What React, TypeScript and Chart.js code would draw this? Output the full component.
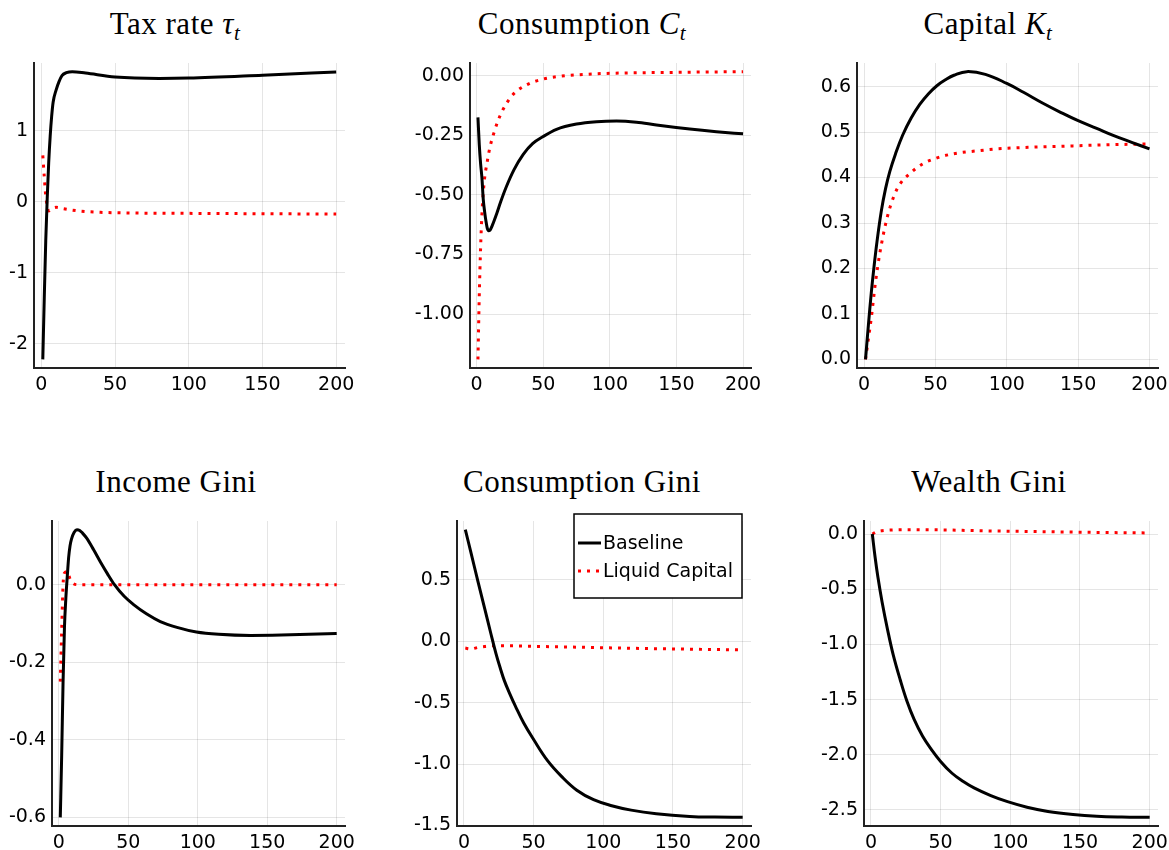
import React, { useEffect, useRef } from "react";
import { Chart, registerables } from "chart.js";

Chart.register(...registerables);

// ---------------- DATA ----------------
const xTicks = [0, 50, 100, 150, 200];
const xTickLabels = ["0", "50", "100", "150", "200"];
const xMin = -4.97;
const xMax = 205.97;

// Tax rate tau_t
const taxBaseT = [1, 2, 3, 4, 5, 6, 7, 8, 10, 12, 14, 17, 21, 30, 50, 80, 100, 150, 200];
const taxBaseV = [-2.22, -1.35, -0.55, 0.05, 0.55, 0.92, 1.2, 1.4, 1.57, 1.69, 1.775, 1.815, 1.83, 1.81, 1.755, 1.735, 1.74, 1.78, 1.825];
const taxLiqT = [1, 2, 3, 4, 5, 7, 10, 15, 25, 40, 60, 100, 150, 200];
const taxLiqV = [0.65, 0.35, 0.08, -0.06, -0.13, -0.1, -0.08, -0.1, -0.13, -0.15, -0.16, -0.165, -0.17, -0.175];
const taxYTicks = [-2, -1, 0, 1];
const taxYLabels = ["-2", "-1", "0", "1"];

// Consumption C_t
const conBaseT = [1, 2, 3, 4, 5, 6, 7, 8, 9, 10, 12, 15, 18, 22, 28, 35, 42, 50, 60, 75, 90, 105, 120, 135, 160, 180, 200];
const conBaseV = [-0.175, -0.29, -0.37, -0.43, -0.52, -0.57, -0.61, -0.64, -0.65, -0.648, -0.625, -0.58, -0.53, -0.47, -0.395, -0.33, -0.285, -0.255, -0.225, -0.203, -0.193, -0.19, -0.195, -0.207, -0.224, -0.235, -0.244];
const conLiqT = [1, 2, 3, 4, 5, 6, 8, 10, 13, 16, 20, 25, 30, 40, 50, 60, 80, 100, 150, 200];
const conLiqV = [-1.19, -0.92, -0.72, -0.58, -0.49, -0.43, -0.36, -0.3, -0.24, -0.19, -0.14, -0.095, -0.065, -0.032, -0.014, -0.004, 0.005, 0.01, 0.014, 0.017];
const conYTicks = [-1, -0.75, -0.5, -0.25, 0];
const conYLabels = ["-1.00", "-0.75", "-0.50", "-0.25", "0.00"];

// Capital K_t
const capBaseT = [1, 3, 5, 7, 9, 12, 15, 18, 22, 27, 33, 39, 45, 51, 57, 63, 72, 85, 100, 112, 125, 138, 150, 163, 175, 188, 200];
const capBaseV = [0.0, 0.075, 0.145, 0.205, 0.258, 0.325, 0.375, 0.413, 0.452, 0.493, 0.531, 0.561, 0.584, 0.602, 0.615, 0.625, 0.633, 0.627, 0.607, 0.587, 0.564, 0.543, 0.525, 0.508, 0.492, 0.477, 0.463];
const capLiqT = [1, 3, 5, 8, 11, 16, 21, 25, 30, 41, 50, 62, 80, 93, 120, 140, 170, 200];
const capLiqV = [0.0, 0.045, 0.09, 0.17, 0.233, 0.31, 0.36, 0.385, 0.403, 0.43, 0.442, 0.452, 0.459, 0.463, 0.467, 0.469, 0.472, 0.474];
const capYTicks = [0, 0.1, 0.2, 0.3, 0.4, 0.5, 0.6];
const capYLabels = ["0.0", "0.1", "0.2", "0.3", "0.4", "0.5", "0.6"];

// Income Gini
const incBaseT = [1, 2, 3, 4, 5, 6, 7, 8, 9, 11, 13, 15, 17, 20, 25, 30, 35, 40, 47, 54, 63, 73, 85, 99, 115, 138, 160, 180, 200];
const incBaseV = [-0.6, -0.44, -0.25, -0.11, -0.035, 0.02, 0.07, 0.1, 0.117, 0.135, 0.142, 0.14, 0.133, 0.12, 0.09, 0.058, 0.028, 0.0, -0.03, -0.052, -0.075, -0.095, -0.11, -0.122, -0.128, -0.131, -0.13, -0.128, -0.126];
const incLiqT = [1, 2, 3, 4, 6, 8, 10, 14, 50, 100, 150, 200];
const incLiqV = [-0.25, -0.12, 0.0, 0.03, 0.034, 0.015, 0.004, 0.0, 0.0, 0.0, 0.0, 0.0];
const incYTicks = [-0.6, -0.4, -0.2, 0];
const incYLabels = ["-0.6", "-0.4", "-0.2", "0.0"];

// Consumption Gini
const cgBaseT = [1, 5, 10, 15, 19, 23, 26, 29, 33, 37, 43, 50, 60, 70, 81, 93, 106, 120, 138, 162, 180, 200];
const cgBaseV = [0.91, 0.725, 0.49, 0.262, 0.078, -0.1, -0.215, -0.32, -0.43, -0.53, -0.668, -0.8, -0.972, -1.1, -1.213, -1.29, -1.339, -1.375, -1.404, -1.426, -1.432, -1.434];
const cgLiqT = [1, 5, 10, 15, 20, 30, 50, 75, 100, 150, 200];
const cgLiqV = [-0.055, -0.062, -0.05, -0.042, -0.037, -0.036, -0.041, -0.046, -0.052, -0.062, -0.07];
const cgYTicks = [-1.5, -1, -0.5, 0, 0.5];
const cgYLabels = ["-1.5", "-1.0", "-0.5", "0.0", "0.5"];

// Wealth Gini
const wgBaseT = [1, 3, 5, 8, 12, 16, 21, 26, 31, 37, 43, 50, 58, 66, 74, 86, 98, 112, 127, 145, 162, 180, 200];
const wgBaseV = [0.0, -0.21, -0.39, -0.615, -0.87, -1.095, -1.32, -1.52, -1.68, -1.83, -1.945, -2.06, -2.165, -2.24, -2.3, -2.37, -2.425, -2.475, -2.513, -2.541, -2.557, -2.564, -2.567];
const wgLiqT = [1, 4, 8, 15, 30, 50, 78, 120, 160, 200];
const wgLiqV = [0.0, 0.02, 0.03, 0.037, 0.04, 0.038, 0.03, 0.022, 0.015, 0.01];
const wgYTicks = [-2.5, -2, -1.5, -1, -0.5, 0];
const wgYLabels = ["-2.5", "-2.0", "-1.5", "-1.0", "-0.5", "0.0"];

const seriesNames = ["Baseline", "Liquid Capital"];

// ---------------- STYLE / LAYOUT ----------------
const TICK_FONT = { family: "'DejaVu Sans', sans-serif", size: 19 };
const GRID_COLOR = "rgba(0,0,0,0.1)";
const AXW = 70;
const AXH = 40;
const PADT = 20;
const PADR = 26;

const legendPlugin = {
  id: "boxLegend",
  afterDraw(chart: any) {
    const ctx = chart.ctx;
    const ca = chart.chartArea;
    ctx.save();
    ctx.font = "19px 'DejaVu Sans', sans-serif";
    const ds = chart.data.datasets;
    const textW = Math.max(...ds.map((d: any) => ctx.measureText(d.label).width));
    const boxW = 4 + 23 + 2 + textW + 9;
    const right = ca.right - 9;
    const left = Math.round(right - boxW);
    const top = ca.top - 7;
    const h = 84;
    ctx.fillStyle = "#fff";
    ctx.fillRect(left, top, right - left, h);
    ctx.strokeStyle = "#000";
    ctx.lineWidth = 1.5;
    ctx.strokeRect(left, top, right - left, h);
    ds.forEach((d: any, i: number) => {
      const y = top + 29 + i * 28;
      ctx.beginPath();
      ctx.strokeStyle = d.borderColor;
      ctx.lineWidth = d.borderWidth;
      ctx.setLineDash(d.borderDash || []);
      ctx.moveTo(left + 4, y);
      ctx.lineTo(left + 27, y);
      ctx.stroke();
      ctx.setLineDash([]);
      ctx.fillStyle = "#000";
      ctx.textBaseline = "middle";
      ctx.textAlign = "left";
      ctx.fillText(d.label, left + 29, y + 1);
    });
    ctx.restore();
  },
};

type PanelProps = {
  L: number; R: number; T: number; B: number;
  baseT: number[]; baseV: number[];
  liqT: number[]; liqV: number[];
  yTicks: number[]; yLabels: string[];
  legend?: boolean;
  smooth?: boolean;
};

function Panel(p: PanelProps) {
  const ref = useRef<HTMLCanvasElement | null>(null);
  const width = p.R - p.L + AXW + PADR;
  const height = p.B - p.T + PADT + AXH;
  useEffect(() => {
    if (!ref.current) return;
    const all = [...p.baseV, ...p.liqV];
    const lo = Math.min(...all);
    const hi = Math.max(...all);
    const pad = 0.03 * (hi - lo);
    const baseInterp = p.smooth
      ? { cubicInterpolationMode: "default", tension: 0.4 }
      : { cubicInterpolationMode: "monotone" };
    const chart = new Chart(ref.current, {
      type: "line",
      data: {
        datasets: [
          {
            label: seriesNames[0],
            data: p.baseT.map((t, i) => ({ x: t, y: p.baseV[i] })),
            borderColor: "#000000",
            borderWidth: 3,
            pointRadius: 0,
            ...baseInterp,
            fill: false,
          },
          {
            label: seriesNames[1],
            data: p.liqT.map((t, i) => ({ x: t, y: p.liqV[i] })),
            borderColor: "#ff0000",
            borderWidth: 3,
            borderDash: [3, 6],
            borderCapStyle: "butt",
            pointRadius: 0,
            cubicInterpolationMode: "monotone",
            fill: false,
          },
        ],
      },
      options: {
        responsive: false,
        animation: false,
        devicePixelRatio: 1,
        layout: { padding: { top: PADT, right: PADR, left: 0, bottom: 0 } },
        plugins: { legend: { display: false }, title: { display: false }, tooltip: { enabled: false } },
        scales: {
          x: {
            type: "linear",
            min: xMin,
            max: xMax,
            afterBuildTicks: (s: any) => { s.ticks = xTicks.map((v) => ({ value: v })); },
            afterFit: (s: any) => { s.height = AXH; },
            grid: { color: GRID_COLOR, drawTicks: false, lineWidth: 1 },
            border: { display: true, color: "#222", width: 2 },
            ticks: {
              autoSkip: false, maxRotation: 0, minRotation: 0, padding: 6,
              color: "#000", font: TICK_FONT,
              callback: (v: any) => xTickLabels[xTicks.indexOf(v)],
            },
          },
          y: {
            type: "linear",
            min: lo - pad,
            max: hi + pad,
            afterBuildTicks: (s: any) => { s.ticks = p.yTicks.map((v) => ({ value: v })); },
            afterFit: (s: any) => { s.width = AXW; },
            grid: { color: GRID_COLOR, drawTicks: false, lineWidth: 1 },
            border: { display: true, color: "#222", width: 2 },
            ticks: {
              autoSkip: false, padding: 6, color: "#000", font: TICK_FONT,
              callback: (v: any) => p.yLabels[p.yTicks.indexOf(v)],
            },
          },
        },
      } as any,
      plugins: p.legend ? [legendPlugin] : [],
    } as any);
    return () => chart.destroy();
  }, []);
  return (
    <canvas
      ref={ref}
      width={width}
      height={height}
      style={{ position: "absolute", left: p.L - AXW, top: p.T - PADT, width, height }}
    />
  );
}

const titleStyle = (cx: number, baseline: number): React.CSSProperties => ({
  position: "absolute",
  left: cx - 250,
  width: 500,
  top: baseline - 26,
  textAlign: "center",
  fontFamily: "'Liberation Serif', serif",
  fontSize: 31,
  letterSpacing: "0.5px",
  lineHeight: "31px",
  color: "#000",
  whiteSpace: "nowrap",
});

const subStyle: React.CSSProperties = {
  fontSize: 21,
  fontStyle: "italic",
  position: "relative",
  top: 6,
};

export default function App() {
  return (
    <div style={{ position: "absolute", left: 0, top: 0, width: 1169, height: 850, background: "#fff", overflow: "hidden" }}>
      <div style={titleStyle(175, 34)}>Tax rate <i>τ</i><span style={subStyle}>t</span></div>
      <div style={titleStyle(582, 34)}>Consumption <i>C</i><span style={subStyle}>t</span></div>
      <div style={titleStyle(988, 34)}>Capital <i>K</i><span style={subStyle}>t</span></div>
      <div style={titleStyle(176, 492)}>Income Gini</div>
      <div style={titleStyle(582, 492)}>Consumption Gini</div>
      <div style={titleStyle(989, 492)}>Wealth Gini</div>

      <Panel L={34} R={345} T={63} B={368} baseT={taxBaseT} baseV={taxBaseV} liqT={taxLiqT} liqV={taxLiqV} yTicks={taxYTicks} yLabels={taxYLabels} />
      <Panel L={470} R={751} T={63} B={368} baseT={conBaseT} baseV={conBaseV} liqT={conLiqT} liqV={conLiqV} yTicks={conYTicks} yLabels={conYLabels} />
      <Panel L={857} R={1158} T={63} B={368} baseT={capBaseT} baseV={capBaseV} liqT={capLiqT} liqV={capLiqV} yTicks={capYTicks} yLabels={capYLabels} smooth />
      <Panel L={52} R={345} T={521} B={826} baseT={incBaseT} baseV={incBaseV} liqT={incLiqT} liqV={incLiqV} yTicks={incYTicks} yLabels={incYLabels} />
      <Panel L={457} R={751} T={521} B={826} baseT={cgBaseT} baseV={cgBaseV} liqT={cgLiqT} liqV={cgLiqV} yTicks={cgYTicks} yLabels={cgYLabels} legend smooth />
      <Panel L={864} R={1158} T={521} B={826} baseT={wgBaseT} baseV={wgBaseV} liqT={wgLiqT} liqV={wgLiqV} yTicks={wgYTicks} yLabels={wgYLabels} smooth />
    </div>
  );
}
